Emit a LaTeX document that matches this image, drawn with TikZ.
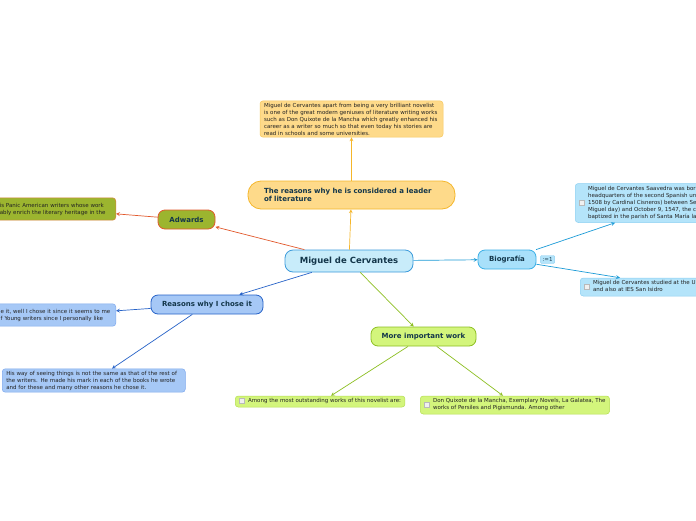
\documentclass[tikz,border=0pt]{standalone}
\usepackage{fontspec}
\setmainfont{DejaVu Sans}
\usetikzlibrary{positioning}

\definecolor{labeltext}{HTML}{13364A}
\definecolor{notetext}{HTML}{222222}
\definecolor{cervfill}{HTML}{C8ECFA}
\definecolor{cervborder}{HTML}{3C9BDB}
\definecolor{leaderfill}{HTML}{FEDA8A}
\definecolor{leaderborder}{HTML}{F5B62A}
\definecolor{leadernoteborder}{HTML}{F7C95E}
\definecolor{awardfill}{HTML}{9CB52F}
\definecolor{awardborder}{HTML}{E2592C}
\definecolor{awardnoteborder}{HTML}{D8853A}
\definecolor{biofill}{HTML}{A8E0FA}
\definecolor{bioborder}{HTML}{3AAFE6}
\definecolor{bioline}{HTML}{1B9BD7}
\definecolor{bionotefill}{HTML}{B4E4FA}
\definecolor{bionoteborder}{HTML}{8DD0F2}
\definecolor{reasonfill}{HTML}{A6C8F6}
\definecolor{reasonborder}{HTML}{2763C8}
\definecolor{reasonnoteborder}{HTML}{7FA9EE}
\definecolor{workfill}{HTML}{D3F57C}
\definecolor{workborder}{HTML}{8DBF22}
\definecolor{worknoteborder}{HTML}{B5DE52}

\newcommand{\tickbox}{\raisebox{-0.6pt}{\setlength{\fboxsep}{0pt}\setlength{\fboxrule}{0.4pt}\fcolorbox{gray!55}{gray!12}{\rule{0pt}{4.5pt}\rule{4.5pt}{0pt}}}}

\begin{document}
\begin{tikzpicture}[
    x=1pt, y=-1pt,
    >=stealth,
    every node/.style={inner sep=0pt},
    central/.style={draw=cervborder, fill=cervfill, line width=0.8pt, rounded corners=8pt, minimum width=128pt, minimum height=22pt, font=\bfseries\fontsize{8.5}{10}\selectfont, text=labeltext},
    topic/.style={line width=0.8pt, rounded corners=7pt, minimum height=19pt, font=\bfseries\fontsize{7}{8.5}\selectfont, text=labeltext},
    note/.style={draw, line width=0.5pt, rounded corners=3pt, inner xsep=4pt, inner ysep=2pt, font=\fontsize{5.5}{7}\selectfont, text=notetext},
    tag/.style={draw=bionoteborder, fill=bionotefill, rounded corners=1pt, inner xsep=2pt, minimum height=8pt, font=\fontsize{5.5}{6}\selectfont, text=labeltext},
    link/.style={->, line width=0.7pt}
]

\useasboundingbox (0,0) rectangle (696,520);
\clip (0,0) rectangle (696,520);
\fill[white] (0,0) rectangle (696,520);

% Central node
\node[central] (cervantes) at (349,261) {Miguel de Cervantes};

% Leader of literature
\node[topic, draw=leaderborder, fill=leaderfill, minimum width=207pt, minimum height=28pt, rounded corners=13pt, text width=175pt, align=left] (leader) at (351.5,195) {The reasons why he is considered a leader\\of literature};
\node[note, draw=leadernoteborder, fill=leaderfill, text width=175pt, align=left] (leadernote) at (351.5,119) {Miguel de Cervantes apart from being a very brilliant novelist\\is one of the great modern geniuses of literature writing works\\such as Don Quixote de la Mancha which greatly enhanced his\\career as a writer so much so that even today his stories are\\read in schools and some universities.};

% Adwards
\node[topic, draw=awardborder, fill=awardfill, minimum width=57pt] (awards) at (186.5,219.5) {Adwards};
\node[note, draw=awardnoteborder, fill=awardfill, text width=112pt, align=left, inner ysep=5pt, anchor=east] (awardsnote) at (116,209) {is Panic American writers whose work\\ably enrich the literary heritage in the};

% Biografia
\node[topic, draw=bioborder, fill=biofill, minimum width=58pt] (bio) at (507,259.5) {Biografía};
\node[tag, right=4pt of bio] (biotag) {:=1};
\node[note, draw=bionoteborder, fill=bionotefill, anchor=west] (bionote1) at (575,203) {\tickbox\hspace{3.5pt}\begin{tabular}[c]{@{}l@{}}Miguel de Cervantes Saavedra was bor\\headquarters of the second Spanish un\\1508 by Cardinal Cisneros) between Se\\Miguel day) and October 9, 1547, the c\\baptized in the parish of Santa María la\end{tabular}};
\node[note, draw=bionoteborder, fill=bionotefill, anchor=west] (bionote2) at (580,287) {\tickbox\hspace{3.5pt}\begin{tabular}[c]{@{}l@{}}Miguel de Cervantes studied at the U\\and also at IES San Isidro\end{tabular}};

% Reasons why I chose it
\node[topic, draw=reasonborder, fill=reasonfill, minimum width=112pt] (reasons) at (207,304.5) {Reasons why I chose it};
\node[note, draw=reasonnoteborder, fill=reasonfill, text width=111pt, align=left, inner ysep=5pt, anchor=east] (reasonnote1) at (116,315) {e it, well I chose it since it seems to me\\f Young writers since I personally like};
\node[note, draw=reasonnoteborder, fill=reasonfill, text width=175pt, align=left, anchor=west] (reasonnote2) at (2,380.5) {His way of seeing things is not the same as that of the rest of\\the writers. He made his mark in each of the books he wrote\\and for these and many other reasons he chose it.};

% More important work
\node[topic, draw=workborder, fill=workfill, minimum width=105pt] (works) at (423.5,336.5) {More important work};
\node[note, draw=worknoteborder, fill=workfill, anchor=west] (worknote1) at (235,401.5) {\tickbox\hspace{3.5pt}\begin{tabular}[c]{@{}l@{}}Among the most outstanding works of this novelist are:\end{tabular}};
\node[note, draw=worknoteborder, fill=workfill, anchor=west] (worknote2) at (420,405) {\tickbox\hspace{3.5pt}\begin{tabular}[c]{@{}l@{}}Don Quixote de la Mancha, Exemplary Novels, La Galatea, The\\works of Persiles and Pigismunda. Among other\end{tabular}};

% Connections
\draw[link, draw=leaderborder] (cervantes) -- (leader);
\draw[link, draw=leaderborder] (leader) -- (leadernote);
\draw[link, draw=awardborder] (cervantes) -- (awards);
\draw[link, draw=awardborder] (awards) -- (awardsnote);
\draw[link, draw=bioline] (cervantes) -- (bio);
\draw[link, draw=bioline] (bio) -- ([xshift=40pt]bionote1.south west);
\draw[link, draw=bioline] (bio) -- ([xshift=40pt]bionote2.north west);
\draw[link, draw=reasonborder] (cervantes) -- (reasons);
\draw[link, draw=reasonborder] (reasons) -- (reasonnote1);
\draw[link, draw=reasonborder] (reasons) -- ([xshift=110pt]reasonnote2.north west);
\draw[link, draw=workborder] (cervantes) -- (works);
\draw[link, draw=workborder] (works) -- ([xshift=96pt]worknote1.north west);
\draw[link, draw=workborder] (works) -- ([xshift=83pt]worknote2.north west);

\end{tikzpicture}
\end{document}
